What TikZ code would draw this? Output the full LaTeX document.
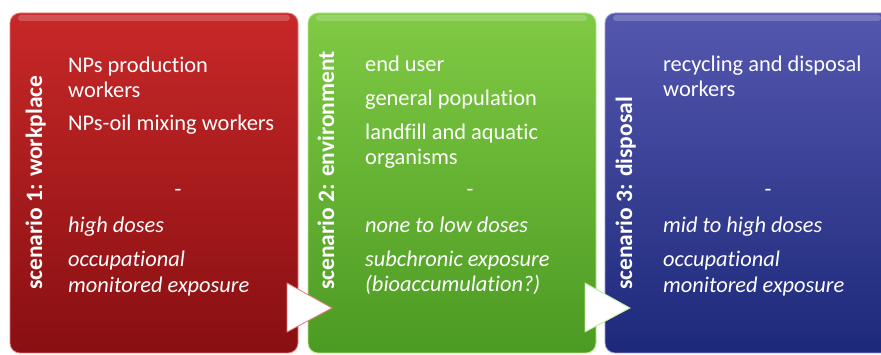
\documentclass[tikz,border=0pt]{standalone}
\usepackage{fontspec}
\setmainfont{Carlito}[Ligatures=NoCommon]
\usepackage{tikz}
\usetikzlibrary{positioning,calc}
\definecolor{redtop}{HTML}{C82828}
\definecolor{redbot}{HTML}{880F12}
\definecolor{redrim}{HTML}{E87A7A}
\definecolor{grntop}{HTML}{80CA44}
\definecolor{grnbot}{HTML}{4B9A22}
\definecolor{grnrim}{HTML}{B8E890}
\definecolor{blutop}{HTML}{5557AE}
\definecolor{blubot}{HTML}{1C297A}
\definecolor{blurim}{HTML}{9A9CDC}

\begin{document}
\begin{tikzpicture}[x=1pt,y=-1pt,
  panel/.style={rounded corners=10pt,line width=0.8pt,minimum height=340pt,inner sep=0pt},
  gloss/.style={fill=white,opacity=0.2,rounded corners=3pt},
  head/.style={font=\bfseries\fontsize{23.5}{27}\selectfont,text=white,rotate=90,anchor=base west,inner sep=0pt},
  item/.style={font=\fontsize{22.4}{26}\selectfont,text=white,anchor=base west,inner sep=0pt},
  note/.style={item,font=\itshape\fontsize{22.4}{26}\selectfont},
  pointer/.style={fill=white,line width=0.8pt,line join=miter}]
\clip (0,0) rectangle (881,355);
\fill[white] (0,0) rectangle (881,355);
% panels
\node[panel,top color=redtop,bottom color=redbot,draw=redrim,minimum width=288pt] (work) at (154,183) {};
\node[panel,top color=grntop,bottom color=grnbot,draw=grnrim,minimum width=288pt] (env) at (452,183) {};
\node[panel,top color=blutop,bottom color=blubot,draw=blurim,minimum width=300pt] (disp) at (755,183) {};
\fill[gloss] (18,15) rectangle (290,21);
\fill[gloss] (316,15) rectangle (587,21);
\fill[gloss] (613,15) rectangle (881,21);
% pointers between panels
\draw[pointer,draw=redrim] (287,283) -- (332,308) -- (287,332) -- cycle;
\draw[pointer,draw=grnrim] (585,283) -- (630,308) -- (585,332) -- cycle;
% scenario 1
\node[head] (work-title) at (42,290) {scenario 1: workplace};
\node[item] (work-a) at (68,73) {NPs production};
\node[item] (work-b) at (68,98) {workers};
\node[item] (work-c) at (68,131) {NPs-oil mixing workers};
\node[item,anchor=base] (work-sep) at (178,197) {-};
\node[note] (work-d) at (68,233) {high doses};
\node[note] (work-e) at (68,267) {occupational};
\node[note] (work-f) at (68,293) {monitored exposure};
% scenario 2
\node[head] (env-title) at (334,290) {scenario 2: environment};
\node[item] (env-a) at (365,72) {end user};
\node[item] (env-b) at (365,106) {general population};
\node[item] (env-c) at (365,140) {landfill and aquatic};
\node[item] (env-d) at (365,165) {organisms};
\node[item,anchor=base] (env-sep) at (470,197) {-};
\node[note] (env-e) at (365,233) {none to low doses};
\node[note] (env-f) at (365,267) {subchronic exposure};
\node[note] (env-g) at (365,292) {(bioaccumulation?)};
% scenario 3
\node[head] (disp-title) at (632,290) {scenario 3: disposal};
\node[item] (disp-a) at (663,72) {recycling and disposal};
\node[item] (disp-b) at (663,97) {workers};
\node[item,anchor=base] (disp-sep) at (768,197) {-};
\node[note] (disp-c) at (663,233) {mid to high doses};
\node[note] (disp-d) at (663,267) {occupational};
\node[note] (disp-e) at (663,293) {monitored exposure};
\end{tikzpicture}
\end{document}
